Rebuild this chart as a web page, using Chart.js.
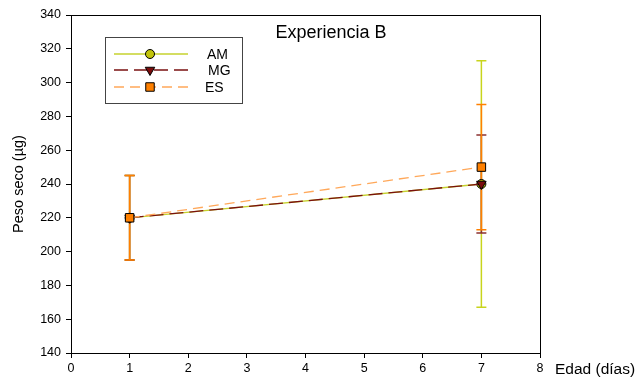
<!DOCTYPE html>
<html>
<head>
<meta charset="utf-8">
<script src="https://cdn.jsdelivr.net/npm/chart.js@4.4.0/dist/chart.umd.min.js"></script>
<style>
  html, body { margin: 0; padding: 0; background: #fff; }
  #wrap { width: 636px; height: 378px; }
</style>
</head>
<body>
<div id="wrap"><canvas id="pesoChart" width="636" height="378"></canvas></div>
<script>
// Peso seco por edad, experiencia B
const edad = [1, 7];
const pesoAM = [220, 240];
const pesoMG = [220, 240];
const pesoES = [220, 250];
const errAM = [25, 73];
const errMG = [25, 29];
const errES = [25, 37];
const xTicks = [0, 1, 2, 3, 4, 5, 6, 7, 8];
const yTicks = [140, 160, 180, 200, 220, 240, 260, 280, 300, 320, 340];

const FONT = 'Liberation Sans, Arial, sans-serif';

const series = [
    { label: 'AM', data: pesoAM, err: errAM, line: '#c6d22e', fill: '#c2c40a', bar: '#c8d41c',
      style: 'circle', radius: 4.5, rotation: 0, dash: [], order: 3 },
    { label: 'MG', data: pesoMG, err: errMG, line: '#7a1010', fill: '#7a0c0c', bar: '#8a3030',
      style: 'triangle', radius: 5.5, rotation: 180, dash: [14, 6], order: 2 },
    { label: 'ES', data: pesoES, err: errES, line: '#ffa85a', fill: '#ff8000', bar: '#ff8000',
      style: 'rect', radius: 6, rotation: 0, dash: [10, 6], order: 1 }
];

const decorations = {
    id: 'decorations',
    beforeDatasetsDraw(chart) {
        const ctx = chart.ctx;
        const xs = chart.scales.x, ys = chart.scales.y;
        ctx.save();
        ctx.lineWidth = 1.5;
        series.forEach(s => {
            ctx.strokeStyle = s.bar;
            s.data.forEach((v, i) => {
                const x = xs.getPixelForValue(edad[i]);
                const yt = ys.getPixelForValue(v + s.err[i]);
                const yb = ys.getPixelForValue(v - s.err[i]);
                ctx.beginPath();
                ctx.moveTo(x, yt); ctx.lineTo(x, yb);
                ctx.moveTo(x - 5, yt); ctx.lineTo(x + 5, yt);
                ctx.moveTo(x - 5, yb); ctx.lineTo(x + 5, yb);
                ctx.stroke();
            });
        });
        ctx.restore();
    },
    afterDraw(chart) {
        const ctx = chart.ctx;
        const a = chart.chartArea;
        ctx.save();
        // frame
        ctx.strokeStyle = '#000';
        ctx.lineWidth = 1;
        ctx.strokeRect(a.left + 0.5, a.top + 0.5, a.right - a.left, a.bottom - a.top);

        // title inside the plot
        ctx.fillStyle = '#000';
        ctx.font = '18px ' + FONT;
        ctx.textAlign = 'center';
        ctx.textBaseline = 'middle';
        ctx.fillText('Experiencia B', 331, 33);

        // axis titles
        ctx.font = '15.5px ' + FONT;
        ctx.textAlign = 'left';
        ctx.fillText('Edad (días)', 555, 370);
        ctx.save();
        ctx.translate(19, (a.top + a.bottom) / 2);
        ctx.rotate(-Math.PI / 2);
        ctx.textAlign = 'center';
        ctx.font = '14.5px ' + FONT;
        ctx.fillText('Peso seco (µg)', 0, 0);
        ctx.restore();

        // legend box
        ctx.strokeStyle = '#444';
        ctx.strokeRect(105.5, 37.5, 137, 66);
        const rows = [54, 70, 87];
        const textX = [207, 208, 205];
        series.forEach((s, i) => {
            const y = rows[i];
            ctx.strokeStyle = s.line;
            ctx.lineWidth = 1.3;
            ctx.setLineDash(s.dash);
            ctx.beginPath();
            ctx.moveTo(114, y); ctx.lineTo(188, y);
            ctx.stroke();
            ctx.setLineDash([]);
            ctx.fillStyle = s.fill;
            ctx.strokeStyle = '#000';
            ctx.lineWidth = 1;
            Chart.helpers.drawPoint(ctx, {
                pointStyle: s.style, radius: s.radius, rotation: s.rotation, borderWidth: 1
            }, 150, y);
            ctx.fillStyle = '#000';
            ctx.font = '14px ' + FONT;
            ctx.textAlign = 'left';
            ctx.textBaseline = 'middle';
            ctx.fillText(s.label, textX[i], y + 1);
        });
        ctx.restore();
    }
};

new Chart(document.getElementById('pesoChart').getContext('2d'), {
    type: 'line',
    data: {
        datasets: series.map(s => ({
            label: s.label,
            data: s.data.map((v, i) => ({ x: edad[i], y: v })),
            borderColor: s.line,
            borderWidth: 1.3,
            borderDash: s.dash,
            tension: 0,
            fill: false,
            pointStyle: s.style,
            pointRadius: s.radius,
            pointRotation: s.rotation,
            pointBackgroundColor: s.fill,
            pointBorderColor: '#000',
            pointBorderWidth: 1,
            order: s.order
        }))
    },
    options: {
        responsive: false,
        animation: false,
        layout: { padding: { top: 15, right: 96, left: 0, bottom: 0 } },
        plugins: {
            legend: { display: false },
            tooltip: { enabled: false }
        },
        scales: {
            x: {
                type: 'linear',
                min: 0,
                max: 8,
                afterBuildTicks: s => { s.ticks = xTicks.map(v => ({ value: v })); },
                afterFit: s => { s.height = 25; },
                grid: { drawOnChartArea: false, drawTicks: true, tickLength: 5, color: '#000' },
                border: { display: true, color: '#000', width: 1 },
                ticks: { color: '#000', font: { family: FONT, size: 12.5 }, padding: 3, maxRotation: 0 }
            },
            y: {
                min: 140,
                max: 340,
                afterBuildTicks: s => { s.ticks = yTicks.map(v => ({ value: v })); },
                afterFit: s => { s.width = 71; },
                grid: { drawOnChartArea: false, drawTicks: true, tickLength: 5, color: '#000' },
                border: { display: true, color: '#000', width: 1 },
                ticks: { color: '#000', font: { family: FONT, size: 12.5 }, padding: 5 }
            }
        }
    },
    plugins: [decorations]
});
</script>
</body>
</html>
